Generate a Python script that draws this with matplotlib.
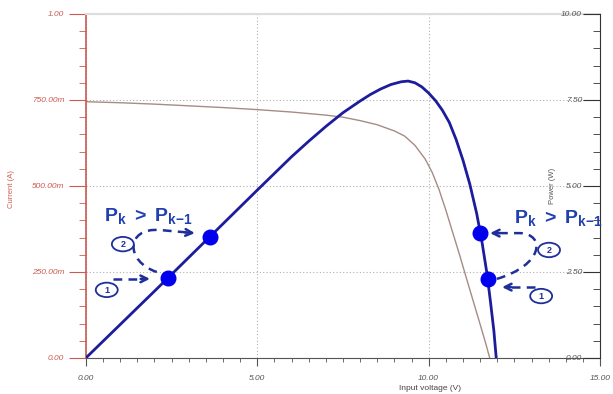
import matplotlib.pyplot as plt
from matplotlib.path import Path
from matplotlib.patches import PathPatch, Ellipse
from matplotlib.ticker import MultipleLocator, FixedLocator

plt.rcParams['font.family'] = ['Liberation Sans', 'DejaVu Sans']
plt.rcParams['mathtext.fontset'] = 'custom'
plt.rcParams['mathtext.bf'] = 'Liberation Sans:bold'
plt.rcParams['mathtext.rm'] = 'Liberation Sans'

# I-V curve (left axis, A)
volt_i = [0, 1, 2, 3, 4, 5, 6, 7, 7.5, 8, 8.5, 9, 9.3, 9.6, 9.9, 10.1, 10.3, 10.5, 10.7, 10.9,
          11.1, 11.3, 11.5, 11.65, 11.78]
current = [0.745, 0.742, 0.738, 0.733, 0.728, 0.722, 0.715, 0.706, 0.700, 0.690, 0.678, 0.660,
           0.645, 0.618, 0.578, 0.540, 0.490, 0.430, 0.365, 0.300, 0.232, 0.165, 0.098, 0.047, 0.0]

# P-V curve (right axis, W)
volt_p = [0, 1, 2, 3, 4, 5, 6, 6.5, 7, 7.5, 8, 8.3, 8.6, 8.9, 9.2, 9.4, 9.6, 9.8, 10.0, 10.2,
          10.4, 10.6, 10.8, 11.0, 11.2, 11.4, 11.55, 11.7, 11.8, 11.9, 11.97]
power = [0, 0.97, 1.94, 2.92, 3.9, 4.88, 5.85, 6.3, 6.73, 7.13, 7.47, 7.66, 7.82, 7.95, 8.03, 8.05,
         8.0, 7.88, 7.7, 7.48, 7.2, 6.85, 6.35, 5.75, 5.05, 4.2, 3.4, 2.45, 1.65, 0.8, 0]

# operating points P(k-1), P(k) on each side of the MPP
left_pts_v = [2.39, 3.62]
left_pts_p = [2.33, 3.53]
right_pts_v = [11.72, 11.5]
right_pts_p = [2.30, 3.64]

red = '#cc5a50'
blue_txt = '#2040b0'
arrow_c = '#1f2f9a'

fig = plt.figure(figsize=(6.13, 3.94), dpi=100)
ax = fig.add_axes([0.140, 0.0914, 0.839, 0.8731])
ax.plot(volt_i, current, color='#a58c84', lw=1.0)
ax.set_xlim(0, 15)
ax.set_ylim(0, 1.0)

ax.xaxis.set_major_locator(FixedLocator([0, 5, 10, 15]))
ax.xaxis.set_minor_locator(MultipleLocator(0.5))
ax.set_xticklabels(['0.00', '5.00', '10.00', '15.00'])
ax.yaxis.set_major_locator(FixedLocator([0, 0.25, 0.5, 0.75, 1.0]))
ax.yaxis.set_minor_locator(MultipleLocator(0.05))
ax.set_yticklabels(['0.00', '250.00m', '500.00m', '750.00m', '1.00'])

ax.tick_params(axis='y', which='major', direction='out', length=12, color=red,
               labelcolor=red, labelsize=6)
ax.tick_params(axis='y', which='minor', direction='out', length=5, color=red)
ax.tick_params(axis='x', which='major', direction='out', length=6, color='#555555',
               labelcolor='#555555', labelsize=6, pad=6)
ax.tick_params(axis='x', which='minor', direction='out', length=3, color='#555555')
for lab in ax.get_xticklabels() + ax.get_yticklabels():
    lab.set_fontstyle('italic')

ax.grid(True, which='major', linestyle=(0, (1, 2)), color='#b0b0b0', lw=0.8)
ax.spines['left'].set_color(red)
ax.spines['left'].set_linewidth(1.2)
ax.spines['bottom'].set_color('#555555')
ax.spines['top'].set_color('#dddddd')
ax.spines['top'].set_linewidth(1.5)
ax.spines['right'].set_visible(False)

ax.set_ylabel('Current (A)', color=red, fontsize=5.5)
ax.yaxis.set_label_coords(-0.138, 0.49)
ax.set_xlabel('Input voltage (V)', color='#444444', fontsize=6)
ax.xaxis.set_label_coords(0.67, -0.078)

ax2 = ax.twinx()
ax2.plot(volt_p, power, color='#1c1c9c', lw=2.0, zorder=3)
ax2.plot(left_pts_v, left_pts_p, 'o', color='#0000ee', ms=10.5, zorder=4)
ax2.plot(right_pts_v, right_pts_p, 'o', color='#0000ee', ms=10.5, zorder=4)
ax2.set_ylim(0, 10)
ax2.yaxis.set_major_locator(FixedLocator([0, 2.5, 5, 7.5, 10]))
ax2.yaxis.set_minor_locator(MultipleLocator(0.5))
ax2.set_yticklabels(['0.00', '2.50', '5.00', '7.50', '10.00'])
ax2.tick_params(axis='y', which='major', direction='in', length=12, color='#333333',
                labelcolor='#555555', labelsize=6, pad=-13)
ax2.tick_params(axis='y', which='minor', direction='in', length=5, color='#333333')
plt.setp(ax2.get_yticklabels(), ha='right', fontstyle='italic')
ax2.spines['right'].set_color('#333333')
ax2.spines['left'].set_visible(False)
ax2.spines['top'].set_visible(False)
ax2.spines['bottom'].set_visible(False)
ax2.set_ylabel('Power (W)', color='#555555', fontsize=5.5, rotation=90)
ax2.yaxis.set_label_coords(0.9, 0.5)

# annotations: dashed arrows and circled step numbers
dash = (0, (3.5, 2.5))


def dashed_path(pts, codes):
    patch = PathPatch(Path(pts, codes), fill=False, ec=arrow_c, lw=1.8, linestyle=dash,
                      clip_on=False, zorder=5)
    ax2.add_patch(patch)


def head(tip, back):
    ax2.annotate('', xy=tip, xytext=back,
                 arrowprops=dict(arrowstyle='->', color=arrow_c, lw=1.8, mutation_scale=12,
                                 shrinkA=0, shrinkB=0), zorder=5)


C4, M, L = Path.CURVE4, Path.MOVETO, Path.LINETO
# left side
dashed_path([(0.79, 2.30), (1.70, 2.30)], [M, L])
head((1.87, 2.30), (1.60, 2.30))
dashed_path([(2.07, 2.50), (1.15, 2.80), (1.15, 3.80), (2.16, 3.72), (2.95, 3.65)],
            [M, C4, C4, C4, L])
head((3.18, 3.63), (2.90, 3.65))
# right side
dashed_path([(13.10, 2.06), (12.30, 2.06)], [M, L])
head((12.14, 2.06), (12.40, 2.06))
dashed_path([(11.99, 2.30), (13.35, 2.70), (13.42, 3.60), (12.66, 3.63), (12.00, 3.63)],
            [M, C4, C4, C4, L])
head((11.79, 3.63), (12.05, 3.63))

for x, y, s in [(1.08, 3.31, '2'), (0.61, 1.98, '1'), (13.51, 3.14, '2'), (13.28, 1.80, '1')]:
    ax2.add_patch(Ellipse((x, y), 0.64, 0.42, fc='white', ec=arrow_c, lw=1.3, zorder=6,
                          clip_on=False))
    ax2.text(x, y - 0.02, s, fontsize=6.5, color=arrow_c, ha='center', va='center', zorder=7,
             fontweight='bold', clip_on=False)

for x, y in [(1.82, 4.14), (13.77, 4.08)]:
    ax2.text(x, y, r'$\mathbf{P_k\;>\;P_{k{-}1}}$', fontsize=14,
             color=blue_txt, ha='center', va='center', zorder=6, clip_on=False)

fig.savefig('out.png', dpi=100)
